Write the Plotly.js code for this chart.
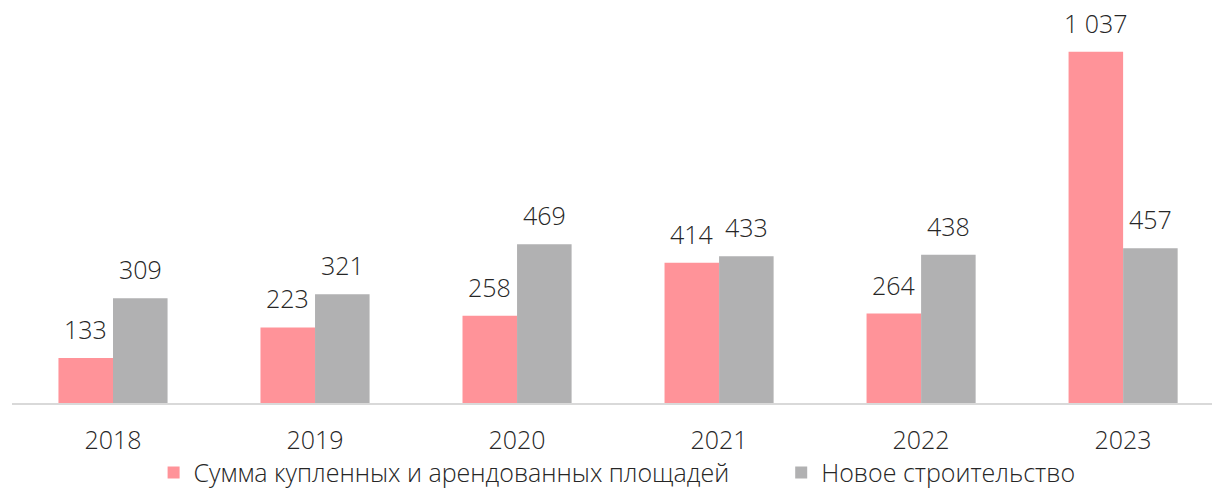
<!DOCTYPE html>
<html>
<head>
<meta charset="utf-8">
<script src="https://cdn.plot.ly/plotly-3.0.1.min.js"></script>
<style>html,body{margin:0;padding:0;background:#fff;}#chart{width:1212px;height:491px;}</style>
</head>
<body>
<div id="chart"></div>
<script>
const years = ["2018", "2019", "2020", "2021", "2022", "2023"];
const boughtRented = [133, 223, 258, 414, 264, 1037];
const newBuild = [309, 321, 469, 433, 438, 457];
const seriesNames = ["Сумма купленных и арендованных площадей", "Новое строительство"];

const PINK = "#FF9399";
const GRAY = "#B1B1B2";
const FONT = "Open Sans";

function fmt(v) {
  return String(v).replace(/\B(?=(\d{3})+(?!\d))/g, " ");
}

const traces = [
  {type: "bar", name: seriesNames[0], x: years, y: boughtRented, marker: {color: PINK}, hoverinfo: "none", legend: "legend"},
  {type: "bar", name: seriesNames[1], x: years, y: newBuild, marker: {color: GRAY}, hoverinfo: "none", legend: "legend2"}
];

const annotations = [];
years.forEach((yr, i) => {
  annotations.push({x: i - 0.135, y: boughtRented[i], xref: "x", yref: "y", text: fmt(boughtRented[i]),
    showarrow: false, yanchor: "bottom", yshift: 10, font: {family: FONT, size: 25, color: "#262626", weight: 300}});
  annotations.push({x: i + 0.135, y: newBuild[i], xref: "x", yref: "y", text: fmt(newBuild[i]),
    showarrow: false, yanchor: "bottom", yshift: 10, font: {family: FONT, size: 25, color: "#262626", weight: 300}});
});

const legendFont = {family: FONT, size: 25, color: "#262626", weight: 300};

const layout = {
  width: 1212, height: 491,
  margin: {l: 12, r: 0, t: 0, b: 87.5},
  paper_bgcolor: "#fff", plot_bgcolor: "#fff",
  barmode: "group", bargap: 0.46, bargroupgap: 0,
  showlegend: true,
  legend: {orientation: "h", x: 0.118, xanchor: "left", yref: "container", y: 0.037, yanchor: "middle",
    font: legendFont, itemwidth: 30},
  legend2: {orientation: "h", x: 0.641, xanchor: "left", yref: "container", y: 0.037, yanchor: "middle",
    font: legendFont, itemwidth: 30},
  xaxis: {type: "category", range: [-0.5, 5.44], showline: true, linecolor: "#D9D9D9", linewidth: 1.5,
    showgrid: false, zeroline: false, ticks: "", tickfont: {family: FONT, size: 25, color: "#262626", weight: 300},
    ticklabelstandoff: 14, fixedrange: true},
  yaxis: {range: [0, 1190], visible: false, showgrid: false, zeroline: false, fixedrange: true},
  annotations: annotations
};

Plotly.newPlot("chart", traces, layout, {displayModeBar: false, staticPlot: true});
</script>
</body>
</html>
